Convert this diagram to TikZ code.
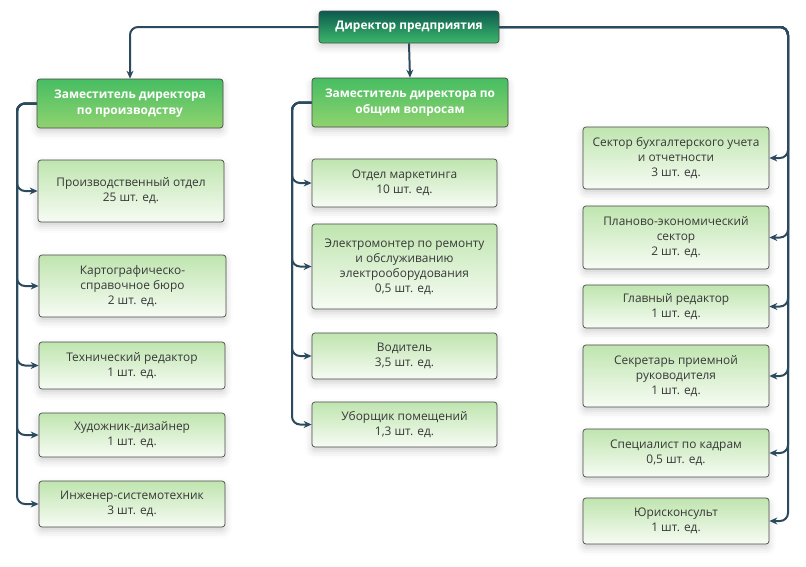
\documentclass[tikz,border=0pt]{standalone}
\usepackage{fontspec}
\setmainfont{Open Sans}
\usetikzlibrary{arrows.meta,shadows.blur}
\definecolor{conn}{HTML}{2B4A5E}
\definecolor{dirtop}{HTML}{0C5A4E}
\definecolor{dirbot}{HTML}{3DB86B}
\definecolor{deptop}{HTML}{46BD62}
\definecolor{depbot}{HTML}{90D36F}
\definecolor{stafftop}{HTML}{BFE5AF}
\definecolor{staffbot}{HTML}{F7FCF4}
\definecolor{boxborder}{HTML}{4A4A4A}
\definecolor{stafftext}{HTML}{383838}
\tikzset{
  base/.style={draw=boxborder, line width=0.7pt, rounded corners=3pt, align=center,
    inner sep=0pt, blur shadow={shadow xshift=0pt, shadow yshift=-4pt, shadow blur radius=7pt, shadow opacity=18}},
  dirbox/.style={base, top color=dirtop, bottom color=dirbot, text=white,
    font=\fontsize{11.9}{15}\selectfont\bfseries},
  depbox/.style={base, top color=deptop, bottom color=depbot, text=white,
    font=\fontsize{11.9}{16}\selectfont\bfseries},
  staffbox/.style={base, top color=stafftop, bottom color=staffbot, text=stafftext,
    font=\fontsize{11.9}{15}\selectfont},
  link/.style={draw=conn, line width=2pt, rounded corners=8pt},
  arr/.style={link, -{Stealth[length=8pt,width=7pt]}}
}
\begin{document}
\begin{tikzpicture}[x=1pt,y=-1pt]
\useasboundingbox (0,0) rectangle (806,566);
% director
\node[dirbox, minimum width=180pt, minimum height=32pt] (dir) at (409,27) {Директор предприятия};
% deputies
\node[depbox, minimum width=186pt, minimum height=49pt] (dep1) at (130,103.5) {Заместитель директора\\по производству};
\node[depbox, minimum width=196pt, minimum height=49pt] (dep2) at (410,102.5) {Заместитель директора по\\общим вопросам};
% left column
\node[staffbox, minimum width=186pt, minimum height=62pt] (p1) at (131,191) {Производственный отдел\\25 шт. ед.};
\node[staffbox, minimum width=187pt, minimum height=62pt] (p2) at (132.5,286) {Картографическо-\\справочное бюро\\2 шт. ед.};
\node[staffbox, minimum width=186pt, minimum height=47pt] (p3) at (132,365.5) {Технический редактор\\1 шт. ед.};
\node[staffbox, minimum width=186pt, minimum height=44pt] (p4) at (132,435) {Художник-дизайнер\\1 шт. ед.};
\node[staffbox, minimum width=186pt, minimum height=46pt] (p5) at (132,504) {Инженер-системотехник\\3 шт. ед.};
% middle column
\node[staffbox, minimum width=185pt, minimum height=48pt] (m1) at (404.5,183) {Отдел маркетинга\\10 шт. ед.};
\node[staffbox, minimum width=185pt, minimum height=85pt] (m2) at (404.5,266.5) {Электромонтер по ремонту\\и обслуживанию\\электрооборудования\\0,5 шт. ед.};
\node[staffbox, minimum width=185pt, minimum height=46pt] (m3) at (404.5,356) {Водитель\\3,5 шт. ед.};
\node[staffbox, minimum width=185pt, minimum height=45pt] (m4) at (404.5,424.5) {Уборщик помещений\\1,3 шт. ед.};
% right column
\node[staffbox, minimum width=186pt, minimum height=62pt] (r1) at (676,158) {Сектор бухгалтерского учета\\и отчетности\\3 шт. ед.};
\node[staffbox, minimum width=186pt, minimum height=63pt] (r2) at (676,237.5) {Планово-экономический\\сектор\\2 шт. ед.};
\node[staffbox, minimum width=186pt, minimum height=43pt] (r3) at (676,306.5) {Главный редактор\\1 шт. ед.};
\node[staffbox, minimum width=186pt, minimum height=62pt] (r4) at (676,376) {Секретарь приемной\\руководителя\\1 шт. ед.};
\node[staffbox, minimum width=186pt, minimum height=48pt] (r5) at (676,453) {Специалист по кадрам\\0,5 шт. ед.};
\node[staffbox, minimum width=186pt, minimum height=46pt] (r6) at (676,521) {Юрисконсульт\\1 шт. ед.};
% bus coordinates
\coordinate (lb) at (17,103.5);
\coordinate (mb) at (292,102.5);
\coordinate (rb) at (788,27);
% director links
\draw[arr] (dir.west) -| (dep1.north);
\draw[arr, rounded corners=0pt] (dir.south) -- (dep2.north);
\foreach \b in {r1,r2,r3,r4,r5,r6}{
  \draw[arr] (dir.east) -- (rb) |- (\b.east);
}
% left branches
\foreach \b in {p1,p2,p3,p4,p5}{
  \draw[arr] (dep1.west) -- (lb) |- (\b.west);
}
% middle branches
\foreach \b in {m1,m2,m3,m4}{
  \draw[arr] (dep2.west) -- (mb) |- (\b.west);
}
\end{tikzpicture}
\end{document}
